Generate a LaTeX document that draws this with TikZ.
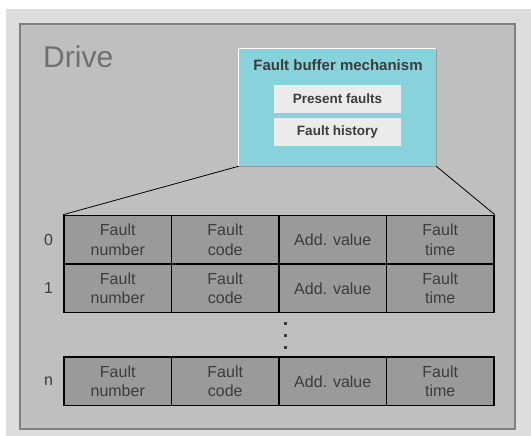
\documentclass[tikz,border=0pt]{standalone}
\usepackage{fontspec}
\setmainfont{Liberation Sans}
\usepackage{xcolor}

\definecolor{pagegray}{HTML}{DDDDDD}
\definecolor{drivefill}{HTML}{BFBFBF}
\definecolor{driveline}{HTML}{808080}
\definecolor{drivetext}{HTML}{707070}
\definecolor{buffercyan}{HTML}{88D2DC}
\definecolor{entrygray}{HTML}{EBEBEB}
\definecolor{cellgray}{HTML}{9A9A9A}
\definecolor{celltext}{HTML}{3C3C3C}

\begin{document}
\begin{tikzpicture}[
    x=1pt, y=-1pt,
    cell/.style={
        draw=black,
        line width=1.6pt,
        fill=cellgray,
        rectangle,
        minimum width=107.5pt,
        minimum height=48.5pt,
        inner sep=0pt,
        align=center,
        text=celltext,
        font=\fontsize{16}{19.5}\selectfont
    },
    idx/.style={inner sep=0pt, text=celltext, font=\fontsize{16}{19.5}\selectfont},
    panel/.style={
        fill=buffercyan,
        rectangle,
        minimum width=197pt,
        minimum height=117pt,
        inner sep=0pt
    },
    entry/.style={
        fill=entrygray,
        rectangle,
        minimum width=127pt,
        minimum height=28pt,
        inner sep=0pt,
        text=celltext,
        font=\fontsize{13.5}{16}\selectfont\bfseries
    }
]

% Background
\useasboundingbox (0,0) rectangle (531,436);
\fill[pagegray] (6,9) rectangle (531,436);
\draw[driveline, fill=drivefill, line width=2pt] (20,24) rectangle (515,429);

% Nodes
\node[anchor=base west, inner sep=0pt, text=drivetext,
      font=\fontsize{30}{36}\selectfont] (drive) at (43,67.5) {Drive};

\node[panel] (buffer) at (337.5,107.5) {};
\draw[white, line width=1pt] (buffer.south west) -- (buffer.north west) -- (buffer.north east);
\draw[driveline!80, line width=0.8pt] (buffer.north east) -- (buffer.south east) -- (buffer.south west);
\node[anchor=base, inner sep=0pt, text=celltext,
      font=\fontsize{15}{18}\selectfont\bfseries] (title) at (338,71) {Fault buffer mechanism};
\node[entry] (present) at (337.5,99) {Present faults};
\node[entry] (history) at (337.5,132) {Fault history};

% Fault table
\foreach \row/\y in {0/239.7, 1/288.3, n/381.3} {
    \node[idx] (i\row) at (48.5,\y) {\row};
    \foreach \col/\x/\txt in {1/117.75/Fault\\number, 2/225.25/Fault\\code,
                              3/332.75/Add. value, 4/440.25/Fault\\time}
        \node[cell] (r\row-\col) at (\x,\y) {\txt};
}

% Dots
\foreach \y in {323,335,347}
    \fill[celltext] (283.5,\y-1.5) rectangle ++(3,3);

% Connections
\draw[line width=0.8pt] (buffer.south west) -- (r0-1.north west);
\draw[line width=0.8pt] (buffer.south east) -- (r0-4.north east);

\end{tikzpicture}
\end{document}
